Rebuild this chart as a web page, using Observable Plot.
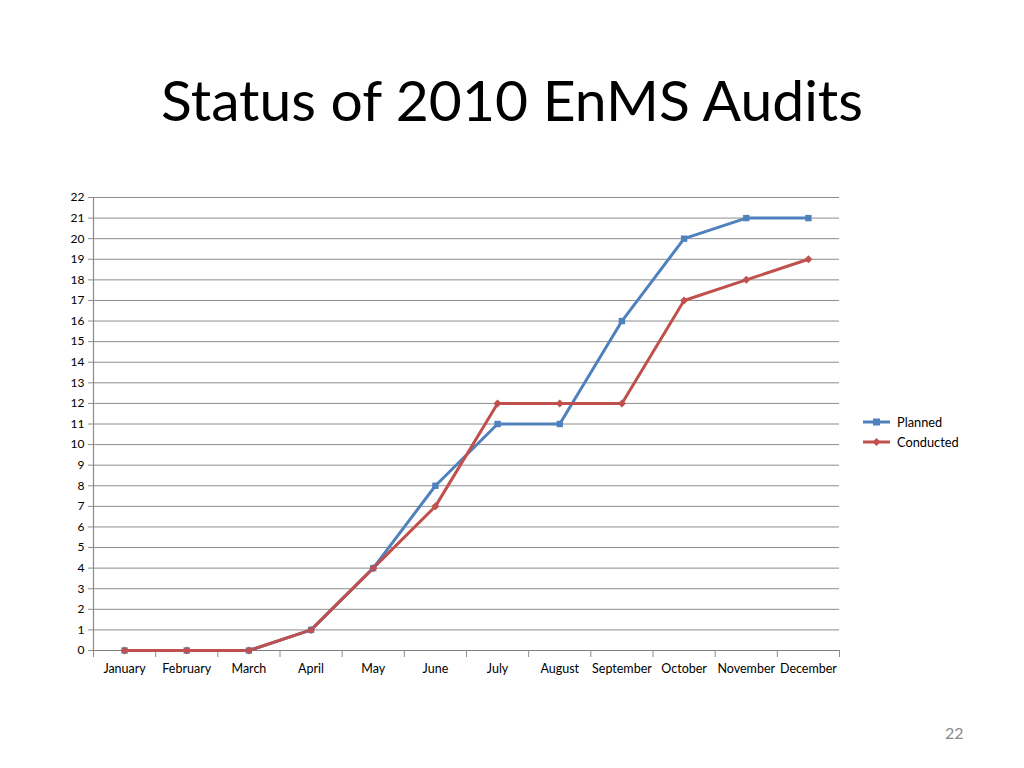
<!DOCTYPE html>
<html><head><meta charset="utf-8">
<script src="https://cdn.jsdelivr.net/npm/d3@7"></script>
<script src="https://cdn.jsdelivr.net/npm/@observablehq/plot@0.6"></script>
<style>
body{margin:0;background:#fff;font-family:Lato,"Open Sans",sans-serif;}
#page{position:relative;width:1024px;height:768px;overflow:hidden;background:#fff;}
#title{position:absolute;left:0;width:1024px;top:65px;text-align:center;font-size:57px;color:#000;font-family:Lato,sans-serif;}
#chart{position:absolute;left:0;top:187px;}
#legend{position:absolute;left:862px;top:412px;font-size:12.8px;font-family:Lato,sans-serif;color:#000;}
#legend div{height:20px;display:flex;align-items:center;}
#legend svg{margin-right:5px;}
#pnum{position:absolute;left:945px;top:723px;font-size:16px;color:#8a8a8a;font-family:Lato,sans-serif;}
</style></head>
<body><div id="page">
<div id="title">Status of 2010 EnMS Audits</div>
<div id="chart"></div>
<div id="legend"></div>
<div id="pnum">22</div>
</div>
<script>
const months = ["January","February","March","April","May","June","July","August","September","October","November","December"];
const planned = [0,0,0,1,4,8,11,11,16,20,21,21];
const conducted = [0,0,0,1,4,7,12,12,12,17,18,19];
const yTicks = d3.range(0, 23);
const seriesNames = ["Planned","Conducted"];
const seriesColors = ["#4F81BD","#C0504D"];

const rows = [];
months.forEach((m,i)=>{
  rows.push({i, month:m, series:"Planned", value:planned[i]});
  rows.push({i, month:m, series:"Conducted", value:conducted[i]});
});
const P = rows.filter(d=>d.series==="Planned");
const C = rows.filter(d=>d.series==="Conducted");
const bounds = d3.range(-0.5, months.length, 1);

const chart = Plot.plot({
  width:1024, height:500,
  marginTop:10, marginBottom:37, marginLeft:93, marginRight:185,
  style:{fontFamily:"Lato, sans-serif", fontSize:"12px", color:"#000", background:"transparent"},
  x:{type:"linear", domain:[-0.5, months.length-0.5]},
  y:{domain:[0,22]},
  marks:[
    Plot.ruleY(yTicks.filter(t=>t>0), {stroke:"#8c8c8c", strokeWidth:1, strokeOpacity:1}),
    Plot.ruleX([-0.5], {y1:0, y2:22, stroke:"#8c8c8c", strokeWidth:1.2}),
    Plot.ruleY([0], {stroke:"#7f7f7f", strokeWidth:1.2}),
    Plot.axisY({ticks:yTicks, tickSize:5, tickPadding:4, fontSize:12, stroke:"#8c8c8c", label:null, tickFormat:d=>d}),
    Plot.axisX({ticks:bounds, tickSize:7, tickFormat:()=>"", stroke:"#8c8c8c", label:null}),
    Plot.axisX({ticks:d3.range(months.length), tickSize:0, tickPadding:14, fontSize:12.5, tickFormat:i=>months[i], label:null}),
    Plot.line(P, {x:"i", y:"value", stroke:seriesColors[0], strokeWidth:3}),
    Plot.line(C, {x:"i", y:"value", stroke:seriesColors[1], strokeWidth:3}),
    Plot.dot(P, {x:"i", y:"value", symbol:"square", r:3.6, fill:seriesColors[0], stroke:"none"}),
    Plot.dot(C, {x:"i", y:"value", symbol:"diamond2", r:3.6, fill:seriesColors[1], stroke:"none"})
  ]
});
document.getElementById("chart").appendChild(chart);

const lg = document.getElementById("legend");
seriesNames.forEach((n,k)=>{
  const row = document.createElement("div");
  const sym = k===0
    ? `<rect x="11" y="3.5" width="7" height="7" fill="${seriesColors[k]}"/>`
    : `<path d="M14.5,3 L18.5,7 L14.5,11 L10.5,7 Z" fill="${seriesColors[k]}"/>`;
  row.innerHTML = `<svg width="30" height="14"><line x1="1" x2="28" y1="7" y2="7" stroke="${seriesColors[k]}" stroke-width="3"/>${sym}</svg><span>${n}</span>`;
  lg.appendChild(row);
});
</script>
</body></html>
